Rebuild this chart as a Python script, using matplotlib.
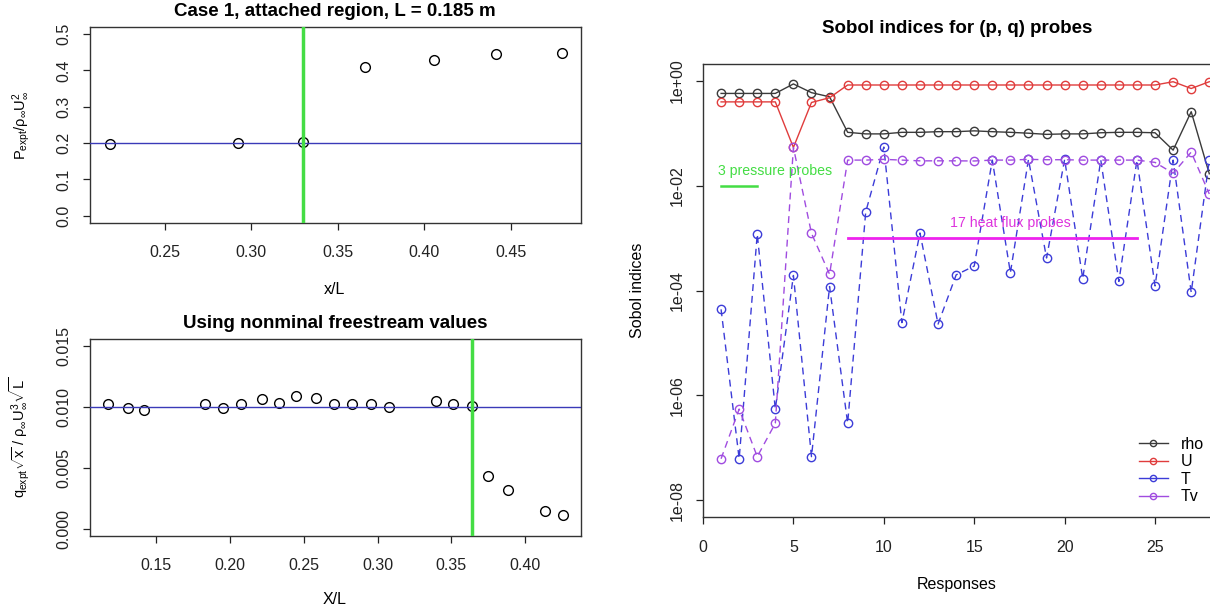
import numpy as np
import matplotlib
matplotlib.use('Agg')
import matplotlib.pyplot as plt
from matplotlib.lines import Line2D

plt.rcParams['font.family'] = ['Liberation Sans', 'DejaVu Sans']
plt.rcParams['mathtext.fontset'] = 'custom'
plt.rcParams['mathtext.rm'] = 'Liberation Sans'
plt.rcParams['mathtext.it'] = 'Liberation Sans:italic'

# Case 1 pressure data
p_x = [0.2185, 0.2925, 0.3298, 0.3656, 0.4053, 0.4411, 0.4795]
p_val = [0.198, 0.200, 0.204, 0.410, 0.4275, 0.445, 0.447]
p_ref = 0.2
p_cut = 0.33

# heat flux data
q_x = [0.117, 0.1307, 0.1415, 0.1830, 0.1952, 0.2076, 0.2214, 0.2335, 0.2449,
       0.2583, 0.2705, 0.2829, 0.2953, 0.3078, 0.3395, 0.3514, 0.3641, 0.3749,
       0.3886, 0.4135, 0.4256]
q_val = [0.01025, 0.00989, 0.00978, 0.01022, 0.00992, 0.01027, 0.01069, 0.01030,
         0.01088, 0.01071, 0.01025, 0.01022, 0.01025, 0.01000, 0.01049, 0.01025,
         0.01005, 0.00437, 0.00316, 0.00146, 0.00113]
q_ref = 0.010
q_cut = 0.364

# Sobol indices per response
responses = list(range(1, 29))
rho = [0.58, 0.58, 0.58, 0.58, 0.88, 0.60, 0.50, 0.105, 0.098, 0.098, 0.105, 0.105,
       0.108, 0.108, 0.112, 0.108, 0.105, 0.101, 0.096, 0.098, 0.098, 0.103, 0.105,
       0.105, 0.103, 0.048, 0.26, 0.017]
U = [0.40, 0.40, 0.40, 0.40, 0.054, 0.39, 0.48] + [0.84] * 18 + [0.97, 0.72, 0.97]
T = [4.4e-5, 6.2e-8, 1.2e-3, 5.5e-7, 1.95e-4, 6.8e-8, 1.2e-4, 2.95e-7, 3.2e-3,
     0.055, 2.45e-5, 1.26e-3, 2.3e-5, 2.0e-4, 2.95e-4, 0.031, 2.2e-4, 0.032,
     4.2e-4, 0.032, 1.7e-4, 0.031, 1.5e-4, 0.031, 1.23e-4, 0.031, 9.3e-5, 0.031]
Tv = [6.2e-8, 5.5e-7, 6.8e-8, 2.95e-7, 0.054, 1.24e-3, 2.06e-4, 0.031, 0.031,
      0.032, 0.031, 0.030, 0.030, 0.030, 0.0298, 0.031, 0.031, 0.032, 0.0315,
      0.0315, 0.031, 0.031, 0.031, 0.031, 0.028, 0.0174, 0.044, 0.007]

W, H = 1210, 615
fig = plt.figure(figsize=(W / 100, H / 100), dpi=100)


def box(l, t, r, b):
    return [l / W, 1 - b / H, (r - l) / W, (b - t) / H]


def r_style(ax):
    ax.tick_params(direction='out', length=5, width=0.9, labelsize=11.5,
                   colors='#222222')
    ax.tick_params(axis='x', pad=11)
    ax.tick_params(axis='y', labelrotation=90, pad=8)
    for lab in ax.get_yticklabels():
        lab.set_va('center')
    for s in ax.spines.values():
        s.set_color('#333333')
        s.set_linewidth(1.0)


green = '#44dd44'
hblue = '#3a3ab8'
title_kw = dict(fontsize=13.5, fontweight='bold')

# top left
ax1 = fig.add_axes(box(89.5, 26.7, 581, 223))
ax1.plot(p_x, p_val, 'o', mfc='none', mec='black', ms=7, mew=1.0, zorder=2)
ax1.axhline(p_ref, color=hblue, lw=1.0, zorder=3)
ax1.axvline(p_cut, color=green, lw=2.5, zorder=3)
ax1.set_xlim(0.2065, 0.4905)
ax1.set_ylim(-0.02, 0.52)
ax1.set_xticks([0.25, 0.30, 0.35, 0.40, 0.45])
ax1.set_xticklabels(['0.25', '0.30', '0.35', '0.40', '0.45'])
ax1.set_yticks([0.0, 0.1, 0.2, 0.3, 0.4, 0.5])
ax1.set_yticklabels(['0.0', '0.1', '0.2', '0.3', '0.4', '0.5'])
r_style(ax1)
ax1.set_title('Case 1, attached region, L = 0.185 m', pad=7.5, **title_kw)

# bottom left
ax2 = fig.add_axes(box(89.5, 339, 581, 536))
ax2.plot(q_x, q_val, 'o', mfc='none', mec='black', ms=7, mew=1.0, zorder=2)
ax2.axhline(q_ref, color=hblue, lw=1.0, zorder=3)
ax2.axvline(q_cut, color=green, lw=2.5, zorder=3)
ax2.set_xlim(0.1047, 0.4379)
ax2.set_ylim(-0.0006, 0.0156)
ax2.set_xticks([0.15, 0.20, 0.25, 0.30, 0.35, 0.40])
ax2.set_xticklabels(['0.15', '0.20', '0.25', '0.30', '0.35', '0.40'])
ax2.set_yticks([0.0, 0.005, 0.010, 0.015])
ax2.set_yticklabels(['0.000', '0.005', '0.010', '0.015'])
r_style(ax2)
ax2.set_title('Using nonminal freestream values', pad=8, **title_kw)

# right: Sobol indices
c_rho, c_U, c_T, c_Tv = '#3a3a3a', '#e03c3c', '#3c3cd8', '#a04ce0'
ax3 = fig.add_axes(box(703, 64, 1212, 517.3))
ax3.set_yscale('log')
ax3.plot(responses, rho, '-o', color=c_rho, mfc='none', ms=6, mew=1.0, lw=1.0)
ax3.plot(responses, U, '-o', color=c_U, mfc='none', ms=6, mew=1.0, lw=1.0)
ax3.plot(responses, T, '--o', color=c_T, mfc='none', ms=6, mew=1.0, lw=1.0, dashes=(5, 3.5))
ax3.plot(responses, Tv, '--o', color=c_Tv, mfc='none', ms=6, mew=1.0, lw=1.0, dashes=(5, 3.5))
ax3.plot([1, 3], [1e-2, 1e-2], color=green, lw=1.8)
ax3.text(4, 0.019, '3 pressure probes', color=green, fontsize=10.2, ha='center', va='center')
ax3.plot([8, 24], [1e-3, 1e-3], color='#ee22ee', lw=2.0)
ax3.text(17, 1.95e-3, '17 heat flux probes', color='#dd33dd', fontsize=10.2, ha='center', va='center')
ax3.set_xlim(0, 28.15)
ax3.set_ylim(10 ** -8.325, 10 ** 0.325)
ax3.set_xticks([0, 5, 10, 15, 20, 25])
ax3.set_xticklabels(['0', '5', '10', '15', '20', '25'])
ax3.yaxis.set_major_locator(matplotlib.ticker.FixedLocator([1e0, 1e-2, 1e-4, 1e-6, 1e-8]))
ax3.yaxis.set_minor_locator(matplotlib.ticker.NullLocator())
ax3.set_yticklabels(['1e+00', '1e-02', '1e-04', '1e-06', '1e-08'])
r_style(ax3)
ax3.set_title('Sobol indices for (p, q) probes', pad=22, **title_kw)

handles = [Line2D([], [], color=c, marker='o', mfc='none', ms=4.5, lw=1.0)
           for c in (c_rho, c_U, c_T, c_Tv)]
fig.legend(handles, ['rho', 'U', 'T', 'Tv'], loc='upper left',
           bbox_to_anchor=(1139 / W, 1 - 437 / H), frameon=False, fontsize=11.5,
           handlelength=1.8, handletextpad=0.8, labelspacing=0.15,
           borderpad=0, borderaxespad=0)

# axis labels
fig.text(335 / W, 1 - 290 / H, 'x/L', ha='center', va='center', fontsize=11.5)
fig.text(335 / W, 1 - 600 / H, 'X/L', ha='center', va='center', fontsize=11.5)
fig.text(957 / W, 1 - 584 / H, 'Responses', ha='center', va='center', fontsize=11.5)
fig.text(22 / W, 1 - 125 / H, r'$\mathrm{P_{expt}/\rho_{\infty}U_{\infty}^{2}}$',
         rotation=90, ha='center', va='center', fontsize=10.5)
fig.text(20 / W, 1 - 437 / H, r'$\mathrm{q_{expt}\sqrt{x}\ /\ \rho_{\infty}U_{\infty}^{3}\sqrt{L}}$',
         rotation=90, ha='center', va='center', fontsize=10.5)
fig.text(637 / W, 1 - 290.5 / H, 'Sobol indices', rotation=90, ha='center', va='center',
         fontsize=11.5)

fig.savefig('out.png', dpi=100)
